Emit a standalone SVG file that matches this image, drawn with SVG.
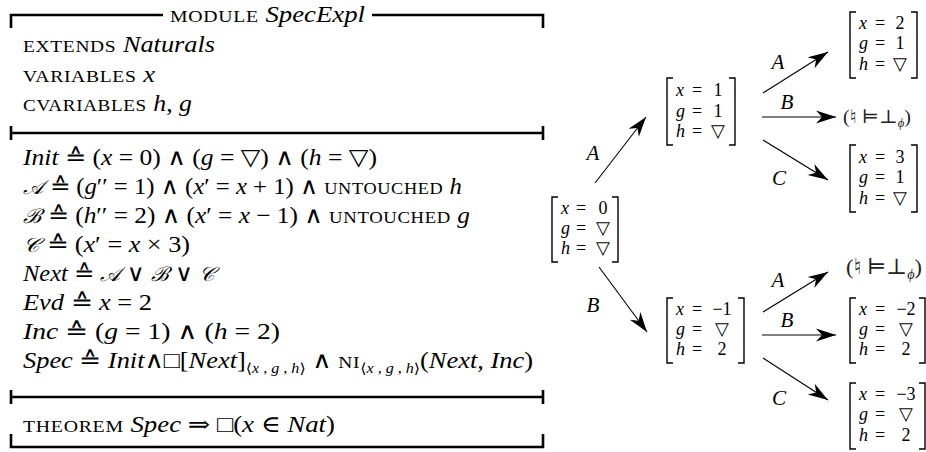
<svg xmlns="http://www.w3.org/2000/svg" width="926" height="452" viewBox="0 0 926 452">
<style>
.t{font-family:"Liberation Serif","DejaVu Serif",serif;font-size:23px;fill:#000}
.i{font-style:italic}
.cal{font-size:20px}
.sc{font-size:17px;letter-spacing:0.6px}
.sub{font-size:14px}
.m{font-family:"Liberation Serif","DejaVu Serif",serif;font-size:18px;fill:#000}
.lbl{font-family:"Liberation Serif","DejaVu Serif",serif;font-size:21px;font-style:italic;fill:#000}
.neg{font-family:"Liberation Serif","DejaVu Serif",serif;fill:#222}
.box{fill:none;stroke:#000;stroke-width:2.6}
.br{fill:none;stroke:#000;stroke-width:1.4}
.arr{fill:none;stroke:#000;stroke-width:1.1;marker-end:url(#ah)}
</style>
<defs>
<marker id="ah" markerUnits="userSpaceOnUse" viewBox="-21 -7 22 14" refX="0" refY="0" markerWidth="22" markerHeight="14" orient="auto">
<path d="M0,0 L-20,-6.5 L-14,0 L-20,6.5 Z" fill="#000"/>
</marker>
</defs>

<g id="module">
<path class="box" d="M11,28 V15 H163 M372,15 H543 V28"/>
<path class="box" d="M11,133 H543 M11,126 V140 M543,126 V140"/>
<path class="box" d="M11,397 H543 M11,390 V404 M543,390 V404"/>
<path class="box" d="M11,434 V447 H543 V434"/>
<text class="t" x="170" y="22" textLength="195" lengthAdjust="spacingAndGlyphs"><tspan class="sc">MODULE</tspan> <tspan class="i">SpecExpl</tspan></text>
<text class="t" x="23" y="52" textLength="192" lengthAdjust="spacingAndGlyphs"><tspan class="sc">EXTENDS</tspan> <tspan class="i">Naturals</tspan></text>
<text class="t" x="23" y="82" textLength="132" lengthAdjust="spacingAndGlyphs"><tspan class="sc">VARIABLES</tspan> <tspan class="i">x</tspan></text>
<text class="t" x="23" y="111" textLength="169" lengthAdjust="spacingAndGlyphs"><tspan class="sc">CVARIABLES</tspan> <tspan class="i">h</tspan>, <tspan class="i">g</tspan></text>
<text class="t" x="23" y="165" textLength="354" lengthAdjust="spacingAndGlyphs"><tspan class="i">Init</tspan> ≙ (<tspan class="i">x</tspan> = 0) ∧ (<tspan class="i">g</tspan> = ▽) ∧ (<tspan class="i">h</tspan> = ▽)</text>
<text class="t" x="23" y="194" textLength="439" lengthAdjust="spacingAndGlyphs"><tspan class="i cal">𝒜</tspan> ≙ (<tspan class="i">g</tspan>′′ = 1) ∧ (<tspan class="i">x</tspan>′ = <tspan class="i">x</tspan> + 1) ∧ <tspan class="sc">UNTOUCHED</tspan> <tspan class="i">h</tspan></text>
<text class="t" x="23" y="223" textLength="447" lengthAdjust="spacingAndGlyphs"><tspan class="i cal">ℬ</tspan> ≙ (<tspan class="i">h</tspan>′′ = 2) ∧ (<tspan class="i">x</tspan>′ = <tspan class="i">x</tspan> − 1) ∧ <tspan class="sc">UNTOUCHED</tspan> <tspan class="i">g</tspan></text>
<text class="t" x="23" y="252" textLength="167" lengthAdjust="spacingAndGlyphs"><tspan class="i cal">𝒞</tspan> ≙ (<tspan class="i">x</tspan>′ = <tspan class="i">x</tspan> × 3)</text>
<text class="t" x="23" y="281" textLength="192" lengthAdjust="spacingAndGlyphs"><tspan class="i">Next</tspan> ≙ <tspan class="i cal">𝒜</tspan> ∨ <tspan class="i cal">ℬ</tspan> ∨ <tspan class="i cal">𝒞</tspan></text>
<text class="t" x="23" y="310" textLength="129" lengthAdjust="spacingAndGlyphs"><tspan class="i">Evd</tspan> ≙ <tspan class="i">x</tspan> = 2</text>
<text class="t" x="23" y="339" textLength="257" lengthAdjust="spacingAndGlyphs"><tspan class="i">Inc</tspan> ≙ (<tspan class="i">g</tspan> = 1) ∧ (<tspan class="i">h</tspan> = 2)</text>
<text class="t" x="23" y="368" textLength="510" lengthAdjust="spacingAndGlyphs"><tspan class="i">Spec</tspan> ≙ <tspan class="i">Init</tspan>∧□[<tspan class="i">Next</tspan>]<tspan class="sub" dy="5">⟨<tspan class="i">x</tspan> , <tspan class="i">g</tspan> , <tspan class="i">h</tspan>⟩</tspan><tspan dy="-5"> ∧ </tspan><tspan class="sc">NI</tspan><tspan class="sub" dy="5">⟨<tspan class="i">x</tspan> , <tspan class="i">g</tspan> , <tspan class="i">h</tspan>⟩</tspan><tspan dy="-5">(</tspan><tspan class="i">Next</tspan>, <tspan class="i">Inc</tspan>)</text>
<text class="t" x="23" y="432" textLength="312" lengthAdjust="spacingAndGlyphs"><tspan class="sc">THEOREM</tspan> <tspan class="i">Spec</tspan> ⇒ □(<tspan class="i">x</tspan> ∈ <tspan class="i">Nat</tspan>)</text>
</g>

<g id="s0">
<path class="br" d="M558,197 H552 V262 H558 M612,197 H618 V262 H612"/>
<text class="m"><tspan class="i" x="561" y="214">x</tspan><tspan x="576" y="214">=</tspan><tspan x="603" y="214" text-anchor="middle">0</tspan></text>
<text class="m"><tspan class="i" x="561" y="234">g</tspan><tspan x="576" y="234">=</tspan><tspan x="603" y="234" text-anchor="middle">▽</tspan></text>
<text class="m"><tspan class="i" x="561" y="254">h</tspan><tspan x="576" y="254">=</tspan><tspan x="603" y="254" text-anchor="middle">▽</tspan></text>
</g>

<g id="s1">
<path class="br" d="M673,78 H667 V145 H673 M729,78 H735 V145 H729"/>
<text class="m"><tspan class="i" x="676" y="96">x</tspan><tspan x="692" y="96">=</tspan><tspan x="718" y="96" text-anchor="middle">1</tspan></text>
<text class="m"><tspan class="i" x="676" y="117">g</tspan><tspan x="692" y="117">=</tspan><tspan x="718" y="117" text-anchor="middle">1</tspan></text>
<text class="m"><tspan class="i" x="676" y="137">h</tspan><tspan x="692" y="137">=</tspan><tspan x="718" y="137" text-anchor="middle">▽</tspan></text>
</g>

<g id="s2">
<path class="br" d="M856,12 H850 V78 H856 M911,12 H917 V78 H911"/>
<text class="m"><tspan class="i" x="859" y="29">x</tspan><tspan x="875" y="29">=</tspan><tspan x="900" y="29" text-anchor="middle">2</tspan></text>
<text class="m"><tspan class="i" x="859" y="49">g</tspan><tspan x="875" y="49">=</tspan><tspan x="900" y="49" text-anchor="middle">1</tspan></text>
<text class="m"><tspan class="i" x="859" y="70">h</tspan><tspan x="875" y="70">=</tspan><tspan x="900" y="70" text-anchor="middle">▽</tspan></text>
</g>

<g id="s3">
<path class="br" d="M856,145 H850 V212 H856 M911,145 H917 V212 H911"/>
<text class="m"><tspan class="i" x="859" y="163">x</tspan><tspan x="875" y="163">=</tspan><tspan x="900" y="163" text-anchor="middle">3</tspan></text>
<text class="m"><tspan class="i" x="859" y="183">g</tspan><tspan x="875" y="183">=</tspan><tspan x="900" y="183" text-anchor="middle">1</tspan></text>
<text class="m"><tspan class="i" x="859" y="204">h</tspan><tspan x="875" y="204">=</tspan><tspan x="900" y="204" text-anchor="middle">▽</tspan></text>
</g>

<g id="bot1">
<text class="neg" x="843" y="123" font-size="19" textLength="68" lengthAdjust="spacingAndGlyphs">(♮ ⊨⊥<tspan class="i" font-size="12" dy="4">ϕ</tspan><tspan dy="-4">)</tspan></text>
</g>

<g id="sn1">
<path class="br" d="M673,298 H667 V363 H673 M738,298 H744 V363 H738"/>
<text class="m"><tspan class="i" x="676" y="315">x</tspan><tspan x="692" y="315">=</tspan><tspan x="722" y="315" text-anchor="middle">−1</tspan></text>
<text class="m"><tspan class="i" x="676" y="335">g</tspan><tspan x="692" y="335">=</tspan><tspan x="722" y="335" text-anchor="middle">▽</tspan></text>
<text class="m"><tspan class="i" x="676" y="355">h</tspan><tspan x="692" y="355">=</tspan><tspan x="722" y="355" text-anchor="middle">2</tspan></text>
</g>

<g id="bot2">
<text class="neg" x="846" y="274" font-size="22" textLength="76" lengthAdjust="spacingAndGlyphs">(♮ ⊨⊥<tspan class="i" font-size="14" dy="5">ϕ</tspan><tspan dy="-5">)</tspan></text>
</g>

<g id="sn2">
<path class="br" d="M856,298 H850 V363 H856 M919,298 H925 V363 H919"/>
<text class="m"><tspan class="i" x="859" y="315">x</tspan><tspan x="875" y="315">=</tspan><tspan x="906" y="315" text-anchor="middle">−2</tspan></text>
<text class="m"><tspan class="i" x="859" y="335">g</tspan><tspan x="875" y="335">=</tspan><tspan x="906" y="335" text-anchor="middle">▽</tspan></text>
<text class="m"><tspan class="i" x="859" y="355">h</tspan><tspan x="875" y="355">=</tspan><tspan x="906" y="355" text-anchor="middle">2</tspan></text>
</g>

<g id="sn3">
<path class="br" d="M856,383 H850 V449 H856 M919,383 H925 V449 H919"/>
<text class="m"><tspan class="i" x="859" y="400">x</tspan><tspan x="875" y="400">=</tspan><tspan x="906" y="400" text-anchor="middle">−3</tspan></text>
<text class="m"><tspan class="i" x="859" y="420">g</tspan><tspan x="875" y="420">=</tspan><tspan x="906" y="420" text-anchor="middle">▽</tspan></text>
<text class="m"><tspan class="i" x="859" y="441">h</tspan><tspan x="875" y="441">=</tspan><tspan x="906" y="441" text-anchor="middle">2</tspan></text>
</g>

<g id="connectors">
<line class="arr" x1="595" y1="183" x2="646" y2="117"/>
<line class="arr" x1="599" y1="267" x2="647" y2="332"/>
<line class="arr" x1="763" y1="93" x2="828" y2="52"/>
<line class="arr" x1="762" y1="117" x2="836" y2="117"/>
<line class="arr" x1="763" y1="140" x2="828" y2="180"/>
<line class="arr" x1="763" y1="312" x2="828" y2="272"/>
<line class="arr" x1="762" y1="335" x2="836" y2="335"/>
<line class="arr" x1="763" y1="358" x2="828" y2="400"/>
<text class="lbl" x="593" y="160" text-anchor="middle">A</text>
<text class="lbl" x="593" y="312" text-anchor="middle">B</text>
<text class="lbl" x="778" y="69" text-anchor="middle">A</text>
<text class="lbl" x="787" y="109" text-anchor="middle">B</text>
<text class="lbl" x="779" y="185" text-anchor="middle">C</text>
<text class="lbl" x="778" y="287" text-anchor="middle">A</text>
<text class="lbl" x="787" y="327" text-anchor="middle">B</text>
<text class="lbl" x="779" y="405" text-anchor="middle">C</text>
</g>
</svg>
